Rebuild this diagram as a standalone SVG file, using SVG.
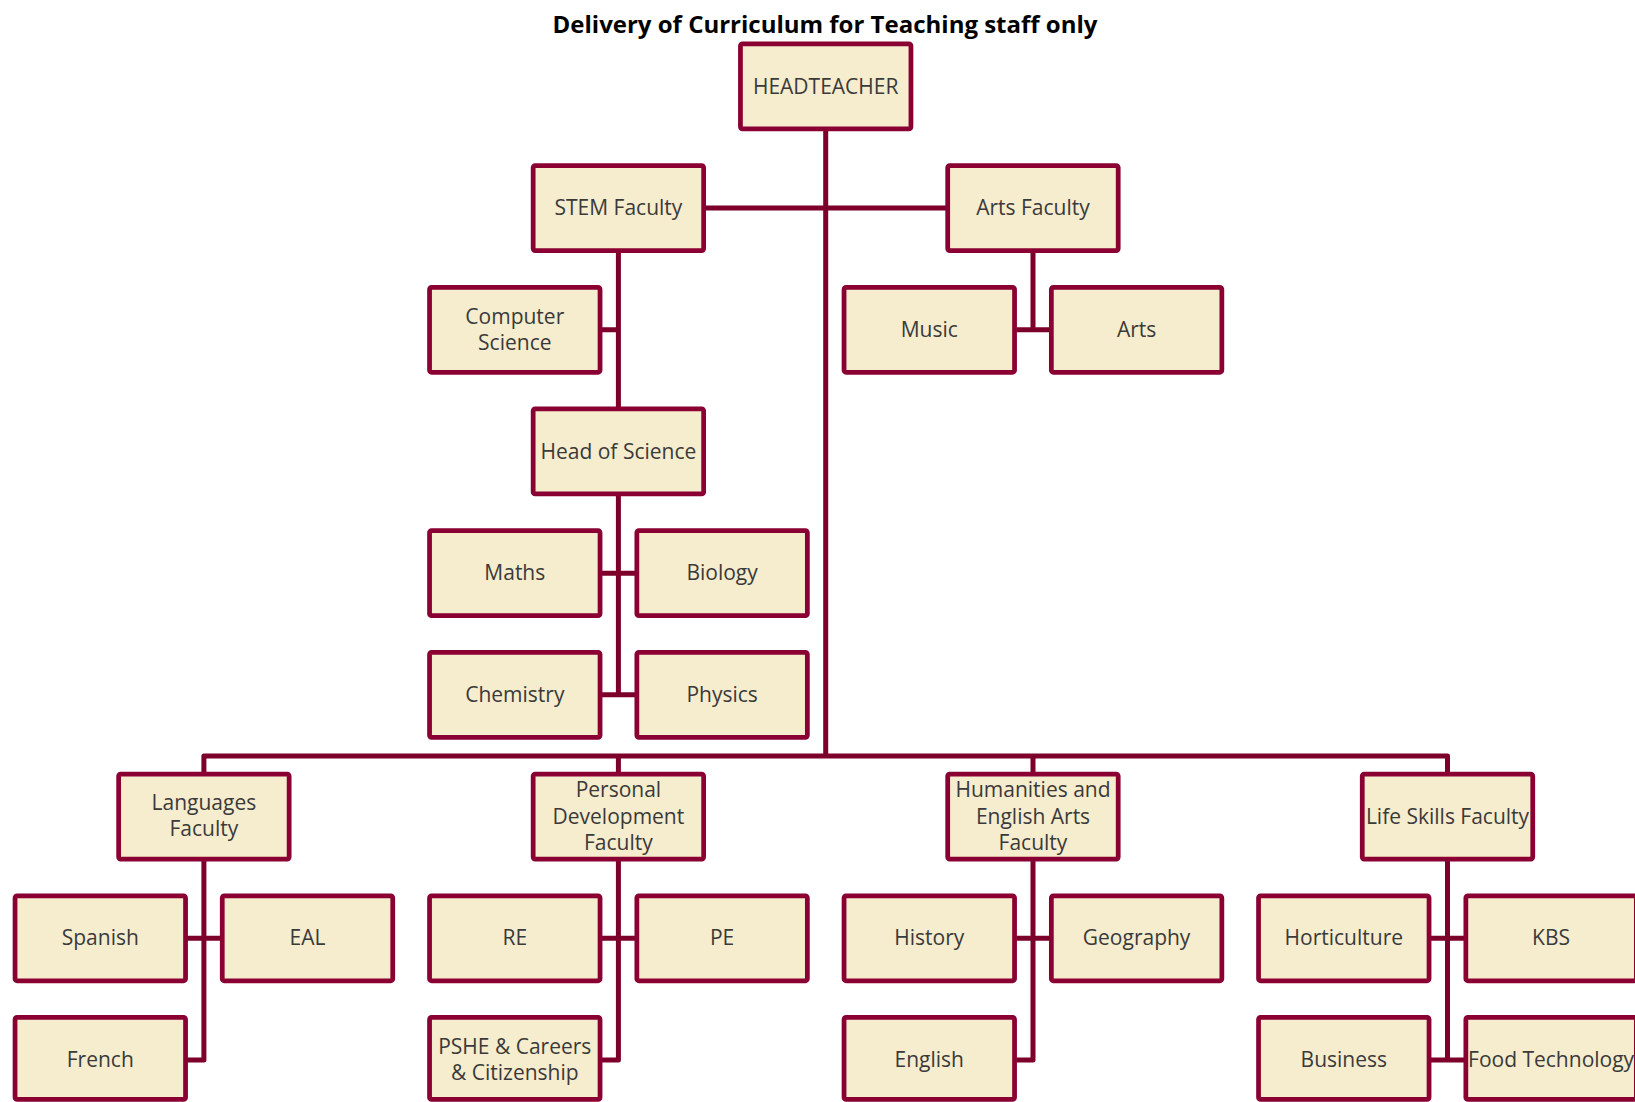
<svg xmlns="http://www.w3.org/2000/svg" width="1635" height="1102" viewBox="0 0 1635 1102">
<style>
.box rect{fill:#F6ECCE;stroke:#8A0032;stroke-width:4.75}
.box text{font-family:"Open Sans","Liberation Sans",sans-serif;font-size:21px;fill:#3A3A3A;text-anchor:middle}
.conn path{fill:none;stroke:#7C0029;stroke-width:5;stroke-linejoin:round}
.title{font-family:"Open Sans","Liberation Sans",sans-serif;font-weight:bold;font-size:24px;fill:#000;text-anchor:middle}
</style>
<rect width="1635" height="1102" fill="#fff"/>
<text class="title" x="825" y="33">Delivery of Curriculum for Teaching staff only</text>
<g id="connectors" class="conn">
<path d="M825.7 131 V756"/>
<path d="M705 208.05 H948"/>
<path d="M618.4 252 V407"/>
<path d="M602 329.75 H618.4"/>
<path d="M618.4 495 V694.85"/>
<path d="M602 573.15 H635"/>
<path d="M602 694.85 H635"/>
<path d="M1033 252 V329.75"/>
<path d="M1016.5 329.75 H1049.5"/>
<path d="M203.9 772 V756 H1447.5 V772"/>
<path d="M618.4 756 V772"/>
<path d="M1033 756 V772"/>
<path d="M203.9 860 V1059.95 H187"/>
<path d="M187 938.25 H220.5"/>
<path d="M618.4 860 V1059.95 H602"/>
<path d="M602 938.25 H635"/>
<path d="M1033 860 V1059.95 H1016.5"/>
<path d="M1016.5 938.25 H1049.5"/>
<path d="M1447.5 860 V1059.95"/>
<path d="M1431 938.25 H1464"/>
<path d="M1431 1059.95 H1464"/>
</g>
<g id="headteacher" class="box"><rect x="740.45" y="43.85" width="170.5" height="85" rx="2"/><text x="825.7" y="93.5">HEADTEACHER</text></g>
<g id="stem-faculty" class="box"><rect x="533.15" y="165.55" width="170.5" height="85" rx="2"/><text x="618.4" y="215.2">STEM Faculty</text></g>
<g id="arts-faculty" class="box"><rect x="947.7" y="165.55" width="170.5" height="85" rx="2"/><text x="1033" y="215.2">Arts Faculty</text></g>
<g id="computer-science" class="box"><rect x="429.55" y="287.25" width="170.5" height="85" rx="2"/><text x="514.8" y="323.5">Computer</text><text x="514.8" y="349.5">Science</text></g>
<g id="music" class="box"><rect x="844.05" y="287.25" width="170.5" height="85" rx="2"/><text x="929.3" y="336.9">Music</text></g>
<g id="arts" class="box"><rect x="1051.35" y="287.25" width="170.5" height="85" rx="2"/><text x="1136.6" y="336.9">Arts</text></g>
<g id="head-of-science" class="box"><rect x="533.15" y="408.95" width="170.5" height="85" rx="2"/><text x="618.4" y="458.6">Head of Science</text></g>
<g id="maths" class="box"><rect x="429.55" y="530.65" width="170.5" height="85" rx="2"/><text x="514.8" y="580.3">Maths</text></g>
<g id="biology" class="box"><rect x="636.85" y="530.65" width="170.5" height="85" rx="2"/><text x="722.1" y="580.3">Biology</text></g>
<g id="chemistry" class="box"><rect x="429.55" y="652.35" width="170.5" height="85" rx="2"/><text x="514.8" y="702">Chemistry</text></g>
<g id="physics" class="box"><rect x="636.85" y="652.35" width="170.5" height="85" rx="2"/><text x="722.1" y="702">Physics</text></g>
<g id="languages-faculty" class="box"><rect x="118.65" y="774.05" width="170.5" height="85" rx="2"/><text x="203.9" y="810.3">Languages</text><text x="203.9" y="836.3">Faculty</text></g>
<g id="personal-development-faculty" class="box"><rect x="533.15" y="774.05" width="170.5" height="85" rx="2"/><text x="618.4" y="797.2">Personal</text><text x="618.4" y="823.5">Development</text><text x="618.4" y="849.5">Faculty</text></g>
<g id="humanities-faculty" class="box"><rect x="947.7" y="774.05" width="170.5" height="85" rx="2"/><text x="1033" y="797.2">Humanities and</text><text x="1033" y="823.5">English Arts</text><text x="1033" y="849.5">Faculty</text></g>
<g id="life-skills-faculty" class="box"><rect x="1362.25" y="774.05" width="170.5" height="85" rx="2"/><text x="1447.5" y="823.7">Life Skills Faculty</text></g>
<g id="spanish" class="box"><rect x="15.05" y="895.75" width="170.5" height="85" rx="2"/><text x="100.3" y="945.4">Spanish</text></g>
<g id="eal" class="box"><rect x="222.25" y="895.75" width="170.5" height="85" rx="2"/><text x="307.5" y="945.4">EAL</text></g>
<g id="french" class="box"><rect x="15.05" y="1017.45" width="170.5" height="82" rx="2"/><text x="100.3" y="1067.1">French</text></g>
<g id="re" class="box"><rect x="429.55" y="895.75" width="170.5" height="85" rx="2"/><text x="514.8" y="945.4">RE</text></g>
<g id="pe" class="box"><rect x="636.85" y="895.75" width="170.5" height="85" rx="2"/><text x="722.1" y="945.4">PE</text></g>
<g id="pshe" class="box"><rect x="429.55" y="1017.45" width="170.5" height="82" rx="2"/><text x="514.8" y="1053.7">PSHE &amp; Careers</text><text x="514.8" y="1079.7">&amp; Citizenship</text></g>
<g id="history" class="box"><rect x="844.05" y="895.75" width="170.5" height="85" rx="2"/><text x="929.3" y="945.4">History</text></g>
<g id="geography" class="box"><rect x="1051.35" y="895.75" width="170.5" height="85" rx="2"/><text x="1136.6" y="945.4">Geography</text></g>
<g id="english" class="box"><rect x="844.05" y="1017.45" width="170.5" height="82" rx="2"/><text x="929.3" y="1067.1">English</text></g>
<g id="horticulture" class="box"><rect x="1258.55" y="895.75" width="170.5" height="85" rx="2"/><text x="1343.8" y="945.4">Horticulture</text></g>
<g id="kbs" class="box"><rect x="1465.85" y="895.75" width="170.5" height="85" rx="2"/><text x="1551.1" y="945.4">KBS</text></g>
<g id="business" class="box"><rect x="1258.55" y="1017.45" width="170.5" height="82" rx="2"/><text x="1343.8" y="1067.1">Business</text></g>
<g id="food-technology" class="box"><rect x="1465.85" y="1017.45" width="170.5" height="82" rx="2"/><text x="1551.1" y="1067.1">Food Technology</text></g>
</svg>
